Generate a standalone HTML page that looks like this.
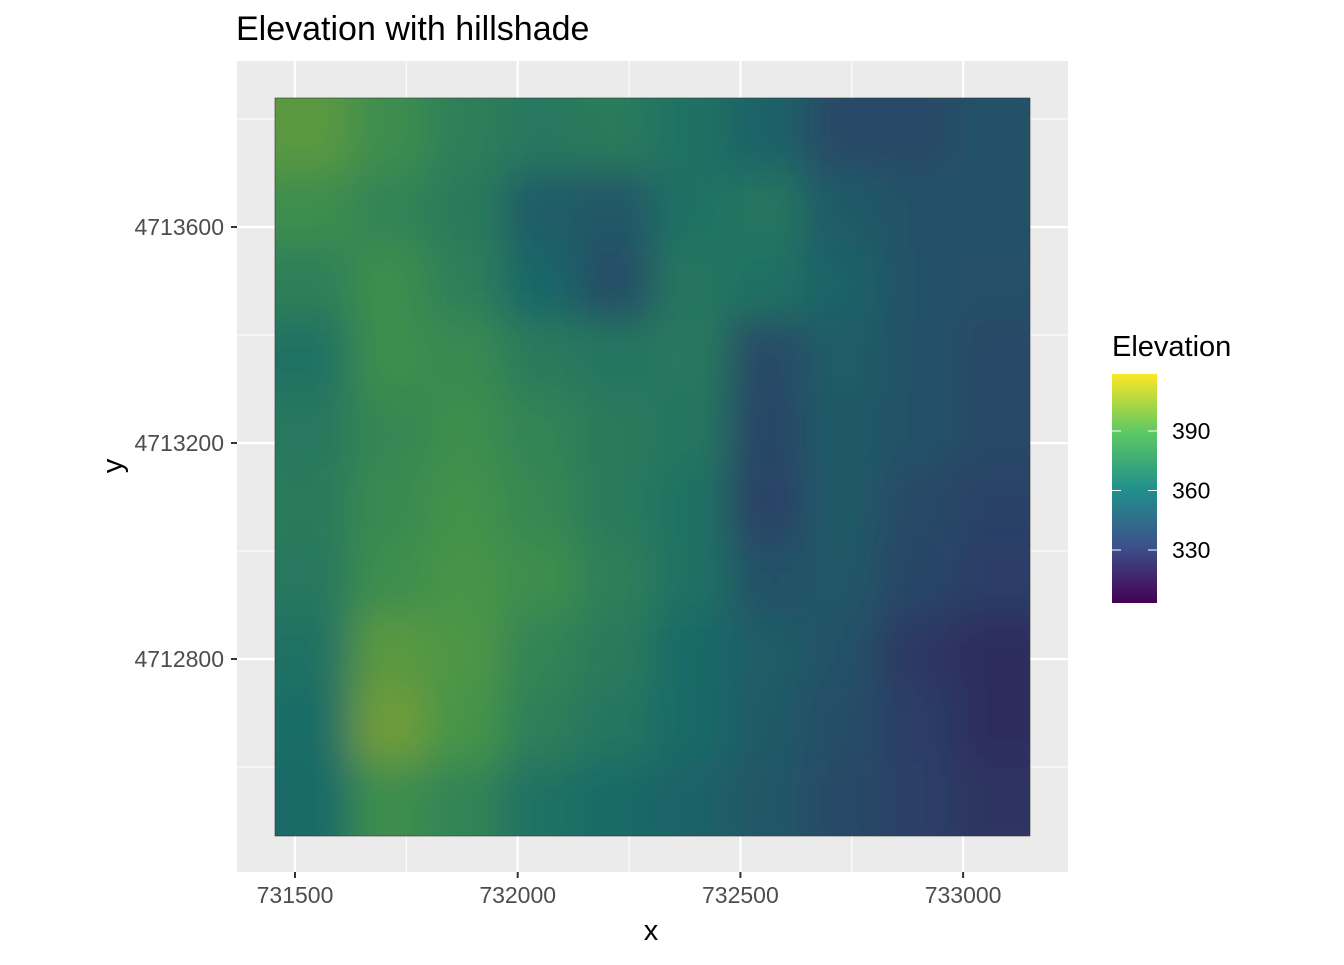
<!DOCTYPE html>
<html><head><meta charset="utf-8"><style>
body{margin:0;background:#fff;font-family:"Liberation Sans",Arial,sans-serif}
svg text{font-family:"Liberation Sans",Arial,sans-serif}
</style></head><body>
<svg id="c" width="1344" height="960" xmlns="http://www.w3.org/2000/svg">
<defs>
<filter id="bl" x="0" y="0" width="1" height="1"><feGaussianBlur stdDeviation="20"/></filter>
<clipPath id="cp"><rect x="275" y="98" width="755" height="738"/></clipPath>
<linearGradient id="lg" x1="0" y1="1" x2="0" y2="0">
<stop offset="0" stop-color="#440154"/><stop offset="0.25" stop-color="#3b528b"/><stop offset="0.5" stop-color="#21918c"/><stop offset="0.75" stop-color="#5ec962"/><stop offset="1" stop-color="#fde725"/>
</linearGradient>
</defs>
<text x="236" y="40" font-size="34" fill="#000">Elevation with hillshade</text>
<rect x="237" y="61" width="831" height="811" fill="#ebebeb"/>
<g id="grid"></g>
<g clip-path="url(#cp)"><g id="cells" filter="url(#bl)"></g><rect x="275" y="98" width="755" height="738" fill="#000" opacity="0.26"/></g>
<rect x="275" y="98" width="755" height="738" fill="none" stroke="#333" stroke-width="0.6"/>
<g id="axes"></g>
<text x="651" y="940" font-size="29" text-anchor="middle">x</text>
<text transform="translate(122,466) rotate(-90)" font-size="29" text-anchor="middle">y</text>
<text x="1112" y="356" font-size="29">Elevation</text>
<rect x="1112" y="374" width="45" height="229" fill="url(#lg)"/>
<g id="leg"></g>
</svg>
<script>
const xTicks=[731500,732000,732500,733000];
const yTicks=[4712800,4713200,4713600];
const legTicks=[330,360,390];
const xRange=[731455,733150];
const yRange=[4712472,4713839];
const elev=[
[395,385,375,370,372,365,355,340,340,345],
[385,378,372,352,348,365,368,350,345,345],
[375,385,375,358,342,368,365,355,345,343],
[365,385,382,372,368,370,340,352,345,340],
[370,380,385,378,372,368,338,350,345,340],
[372,382,388,380,372,365,335,350,340,335],
[370,385,390,385,375,365,345,348,338,332],
[365,395,392,378,372,360,352,345,330,325],
[362,400,390,375,368,360,350,342,332,325],
[360,385,378,365,360,355,348,340,333,328]];
const X=v=>295+(v-731500)*222.7/500;
const Y=v=>659-(v-4712800)*216/400;
const L=v=>550-(v-330)*59.5/30;
const NS="http://www.w3.org/2000/svg";
function mk(p,t,a){const e=document.createElementNS(NS,t);for(const k in a)e.setAttribute(k,a[k]);p.appendChild(e);return e;}
const vir=[[68,1,84],[59,82,139],[33,145,140],[94,201,98],[253,231,37]];
function col(v){let t=(v-303)/(419-303);t=Math.max(0,Math.min(1,t))*4;const i=Math.min(3,Math.floor(t)),f=t-i;const a=vir[i],b=vir[i+1];return `rgb(${a.map((c,j)=>Math.round(c+(b[j]-c)*f)).join(',')})`;}
const g=document.getElementById('grid');
xTicks.forEach((v,i)=>{const l=mk(g,'line',{x1:X(v),x2:X(v),y1:61,y2:872,stroke:'#fff','stroke-width':2.2});
const m=mk(g,'line',{x1:X(v+250),x2:X(v+250),y1:61,y2:872,stroke:'#fff','stroke-width':1.1});});
[4712600,4713000,4713400,4713800].forEach(v=>{const m=mk(g,'line',{x1:237,x2:1068,y1:Y(v),y2:Y(v),stroke:'#fff','stroke-width':1.1});});
yTicks.forEach(v=>{const l=mk(g,'line',{x1:237,x2:1068,y1:Y(v),y2:Y(v),stroke:'#fff','stroke-width':2.2});});
const cg=document.getElementById('cells');
const nr=elev.length,nc=elev[0].length;
const x0=X(xRange[0]),x1=X(xRange[1]),y0=Y(yRange[1]),y1=Y(yRange[0]);
const cw=(x1-x0)/nc,ch=(y1-y0)/nr;
elev.forEach((row,r)=>row.forEach((v,c)=>{
let ax=x0+c*cw,ay=y0+r*ch,w=cw+1,h=ch+1;
if(c==0){ax-=40;w+=40}if(c==nc-1)w+=40;if(r==0){ay-=40;h+=40}if(r==nr-1)h+=40;
const e=mk(cg,'rect',{x:ax,y:ay,width:w,height:h,fill:col(v)});

}));
const ax=document.getElementById('axes');
xTicks.forEach(v=>{mk(ax,'line',{x1:X(v),x2:X(v),y1:872,y2:878,stroke:'#333','stroke-width':2});
const t=mk(ax,'text',{x:X(v),y:903,'font-size':23,'text-anchor':'middle',fill:'#4d4d4d'});t.textContent=v;
});
yTicks.forEach(v=>{mk(ax,'line',{x1:231,x2:237,y1:Y(v),y2:Y(v),stroke:'#333','stroke-width':2});
const t=mk(ax,'text',{x:224,y:Y(v)+8,'font-size':23,'text-anchor':'end',fill:'#4d4d4d'});t.textContent=v;
});
const lg=document.getElementById('leg');
legTicks.forEach(v=>{mk(lg,'line',{x1:1112,x2:1121,y1:L(v),y2:L(v),stroke:'#fff','stroke-width':1});mk(lg,'line',{x1:1148,x2:1157,y1:L(v),y2:L(v),stroke:'#fff','stroke-width':1});
const t=mk(lg,'text',{x:1172,y:L(v)+8,'font-size':23,fill:'#000'});t.textContent=v;
});
</script>
</body></html>
